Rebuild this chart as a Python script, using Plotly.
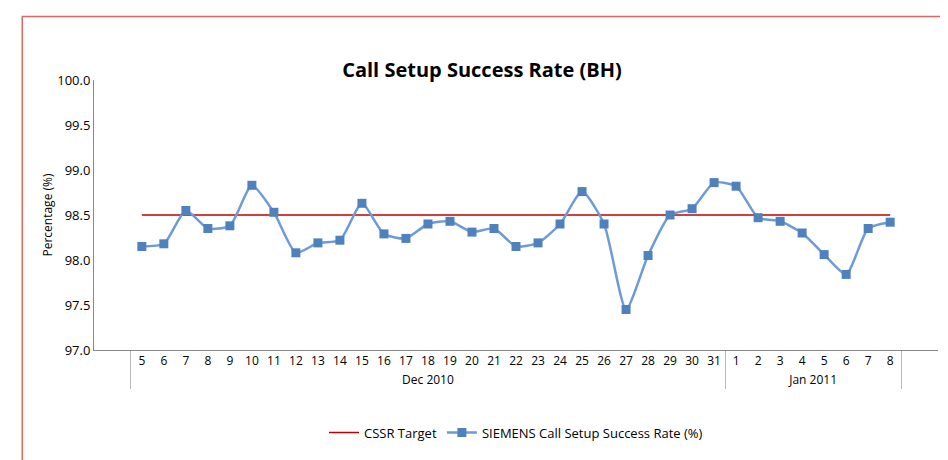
import plotly.graph_objects as go

months = ["Dec 2010"] * 27 + ["Jan 2011"] * 8
days = [str(d) for d in range(5, 32)] + [str(d) + "\u200b" for d in range(1, 9)]
cssr = [98.15, 98.18, 98.55, 98.35, 98.38, 98.83, 98.53, 98.08, 98.19, 98.22,
        98.63, 98.29, 98.24, 98.40, 98.43, 98.31, 98.35, 98.15, 98.19, 98.40,
        98.76, 98.40, 97.45, 98.05, 98.50, 98.57, 98.86, 98.82, 98.47, 98.43,
        98.30, 98.06, 97.84, 98.35, 98.42]
target = [98.5] * len(days)

fig = go.Figure()
fig.add_trace(go.Scatter(x=[months, days], y=target, mode="lines", name="CSSR Target",
                         line=dict(color="#C00000", width=1.5)))
fig.add_trace(go.Scatter(x=[months, days], y=cssr, mode="lines+markers",
                         name="SIEMENS Call Setup Success Rate (%)",
                         line=dict(color="#6C9BD8", width=2.5, shape="spline", smoothing=0.6),
                         marker=dict(symbol="square", size=9, color="#4F81BD")))

fig.update_layout(
    width=948, height=460, paper_bgcolor="white", plot_bgcolor="white",
    margin=dict(l=86, r=18, t=72, b=118),
    font=dict(family="Open Sans", size=13, color="#000"),
    title=dict(text="<b>Call Setup Success Rate (BH)</b>", x=0.5, y=0.88, xanchor="center",
               font=dict(size=20)),
    showlegend=True,
    legend=dict(orientation="h", x=0.5, xanchor="center", y=-0.25, yanchor="top",
                font=dict(size=13), bgcolor="rgba(0,0,0,0)"),
    xaxis=dict(type="multicategory", showline=True, linecolor="#888", showdividers=True,
               dividercolor="#BBB", tickfont=dict(size=12), tickangle=0, showgrid=False),
    yaxis=dict(range=[97.0, 100.0], dtick=0.5, tickformat=".1f", showline=True,
               linecolor="#888", showgrid=False, ticks="", tickfont=dict(size=13),
               title=dict(text="Percentage (%)", font=dict(size=12), standoff=2)),
    shapes=[dict(type="rect", xref="paper", yref="paper", x0=-0.085, x1=1.02, y0=-0.41, y1=1.235,
                 line=dict(color="#E06666", width=1.5))],
)
fig.write_html("out.html")
